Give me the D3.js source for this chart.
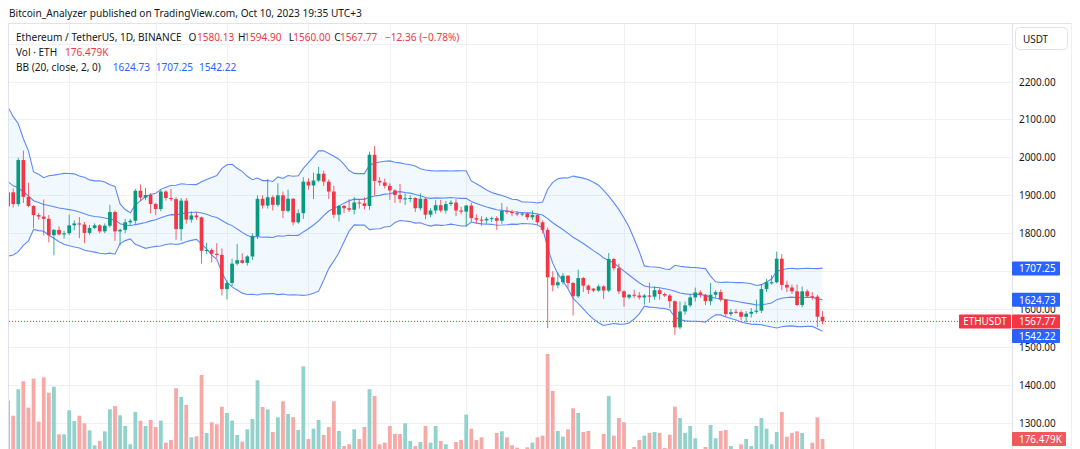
<!DOCTYPE html>
<html><head><meta charset="utf-8">
<script src="https://cdn.jsdelivr.net/npm/d3@7"></script>
<style>html,body{margin:0;padding:0;background:#fff;overflow:hidden}</style>
</head><body>
<svg id="c" width="1080" height="449"></svg>
<script>
// ---------------- DATA ----------------
const startDate = "2023-05-03";           // first daily candle (ETHUSDT, Binance)
const open = [1871,1908,1877,1993,1896,1872,1848,1844,1838,1795,
1809,1797,1800,1821,1826,1823,1801,1814,1821,1805,
1820,1856,1805,1809,1829,1833,1912,1894,1901,1877,
1864,1910,1893,1890,1811,1886,1836,1847,1842,1754,
1756,1746,1743,1653,1669,1720,1729,1722,1739,1793,
1891,1873,1895,1875,1900,1859,1891,1829,1853,1936,
1926,1939,1957,1936,1910,1849,1872,1866,1862,1881,
1879,1872,2007,1938,1934,1925,1913,1901,1890,1892,
1893,1866,1891,1849,1860,1874,1860,1877,1881,1860,
1857,1873,1840,1836,1834,1838,1840,1833,1859,1856,
1853,1850,1852,1842,1848,1829,1809,1684,1663,1671,
1688,1669,1634,1682,1662,1654,1649,1660,1649,1732,
1708,1647,1631,1638,1636,1631,1636,1633,1650,1640,
1636,1621,1552,1594,1610,1631,1644,1638,1621,1638,
1645,1625,1587,1593,1592,1580,1588,1593,1596,1653,
1668,1671,1733,1664,1657,1647,1611,1647,1634,1633,
1580.13];
const high = [1916,1918,1999,2018,1933,1874,1853,1889,1848,1811,
1818,1806,1849,1834,1843,1830,1822,1826,1824,1826,
1875,1860,1812,1838,1838,1917,1929,1920,1906,1880,
1915,1913,1917,1895,1893,1893,1858,1855,1844,1775,
1760,1774,1760,1676,1733,1772,1747,1742,1800,1900,
1900,1943,1900,1932,1910,1915,1893,1863,1948,1945,
1960,1975,1965,1942,1925,1875,1875,1890,1895,1890,
1895,2015,2030,1948,1944,1932,1916,1930,1905,1900,
1895,1905,1893,1866,1887,1888,1885,1887,1890,1870,
1875,1880,1850,1845,1843,1844,1845,1880,1870,1862,
1858,1856,1855,1860,1852,1834,1815,1700,1697,1695,
1690,1672,1704,1685,1665,1656,1665,1663,1748,1735,
1720,1650,1640,1651,1645,1640,1670,1660,1655,1644,
1640,1623,1620,1620,1640,1657,1650,1640,1669,1650,
1652,1627,1600,1600,1597,1595,1603,1625,1666,1680,
1690,1752,1745,1675,1665,1665,1660,1652,1645,1638,
1594.90];
const low = [1853,1868,1871,1880,1869,1814,1836,1794,1776,1742,
1794,1786,1795,1808,1787,1774,1796,1810,1800,1800,
1815,1780,1768,1800,1822,1825,1885,1887,1852,1848,
1858,1886,1885,1783,1780,1825,1828,1835,1720,1745,
1723,1735,1636,1626,1660,1715,1720,1715,1730,1785,
1865,1865,1860,1870,1840,1855,1821,1825,1838,1915,
1890,1935,1925,1890,1840,1831,1853,1856,1850,1865,
1863,1862,1900,1925,1918,1888,1880,1880,1875,1882,
1856,1860,1837,1842,1851,1855,1852,1872,1845,1850,
1818,1830,1826,1820,1826,1830,1809,1825,1850,1845,
1845,1845,1835,1835,1822,1800,1550,1647,1655,1665,
1655,1583,1630,1645,1640,1645,1646,1627,1645,1702,
1640,1607,1626,1629,1625,1612,1617,1625,1625,1632,
1603,1532,1547,1585,1605,1620,1630,1611,1610,1630,
1620,1580,1582,1588,1570,1565,1578,1588,1590,1645,
1665,1668,1650,1645,1640,1608,1605,1630,1625,1553,
1560.00];
const close = [1908,1877,1993,1896,1872,1848,1844,1838,1795,1809,
1797,1800,1821,1826,1823,1801,1814,1821,1805,1820,
1856,1805,1809,1829,1833,1912,1894,1901,1877,1864,
1910,1893,1890,1811,1886,1836,1847,1842,1754,1756,
1746,1743,1653,1669,1720,1729,1722,1739,1793,1891,
1873,1895,1875,1900,1859,1891,1829,1853,1936,1926,
1939,1957,1936,1910,1849,1872,1866,1862,1881,1879,
1872,2007,1938,1934,1925,1913,1901,1890,1892,1893,
1866,1891,1849,1860,1874,1860,1877,1881,1860,1857,
1873,1840,1836,1834,1838,1840,1833,1859,1856,1853,
1850,1852,1842,1848,1829,1809,1684,1663,1671,1688,
1669,1634,1682,1662,1651,1649,1660,1649,1732,1708,
1647,1631,1638,1636,1631,1636,1633,1650,1640,1636,
1621,1552,1594,1610,1631,1644,1638,1621,1638,1645,
1625,1587,1592,1592,1580,1588,1593,1596,1653,1671,
1671,1733,1664,1657,1647,1611,1647,1634,1633,1580.13,
1567.77];
// daily volume, thousands of ETH
const volume = [599,433,725,813,522,842,367,857,687,753,
228,228,493,375,433,350,272,107,154,261,
504,540,438,320,118,474,378,320,386,309,
378,136,165,736,640,552,195,206,882,243,
361,339,533,463,378,221,147,283,397,824,
529,504,254,416,592,452,416,276,978,176,
290,386,221,309,592,265,99,118,283,176,
309,725,651,118,136,320,232,232,350,154,
99,143,320,136,320,154,118,66,143,165,
445,290,165,195,66,55,243,261,195,107,
81,55,85,136,195,213,1114,706,265,202,
283,515,463,254,265,55,55,232,651,213,
408,361,66,88,165,213,243,254,243,77,
224,533,408,243,320,184,66,88,331,184,
265,276,99,66,118,176,99,320,408,290,
118,254,474,202,243,261,243,66,136,416,
176.479];
// closes of the 19 days before the first candle (Apr 14 - May 2), needed by BB(20)
const priorCloses = [2101,2093,2123,2075,2101,1937,1943,1851,1873,1863,1842,1866,1867,1910,1893,1906,1870,1831,1871];
const priceTicks = [1300,1400,1500,1600,1700,1800,1900,2000,2100,2200,2300];
const priceLabels = [1300,1400,1500,1600,1800,1900,2000,2100,2200];   // 1700 sits under the band label
const timeGrid = ["2023-05-15","2023-06-01","2023-06-15","2023-07-01","2023-07-17","2023-08-01","2023-08-15","2023-09-01","2023-09-15","2023-10-01","2023-10-16","2023-11-01"];
const bbLegendLabels = ["1624.73","1707.25","1542.22"];   // basis, upper, lower as shown
const bbLegendValues = [1624.73,1707.25,1542.22];
const headerText = "Bitcoin_Analyzer published on TradingView.com, Oct 10, 2023 19:35 UTC+3";
const symbolText = "Ethereum / TetherUS, 1D, BINANCE";
const volText = "Vol · ETH";
const bbText = "BB (20, close, 2, 0)";
const ticker = "ETHUSDT";
const currency = "USDT";

// ---------------- DRAW ----------------
const FONT = "'Noto Sans','Open Sans','DejaVu Sans',sans-serif";
const UP="#089981", DN="#f23645", VUP="#92d2cc", VDN="#f7a9a7", BLUE="#2962ff";
const svg = d3.select('#c');
const paneL=8.5, paneR=1012.5, paneT=23.5, paneB=449;

const parse = d3.utcParse("%Y-%m-%d");
const d0 = parse(startDate);
const dates = close.map((_,i)=>d3.utcDay.offset(d0,i));
const x = d3.scaleUtc().domain([d0, parse("2023-11-01")]).range([8.1, 934.5]);
const y = d3.scaleLinear().domain([1300,2200]).range([423,81.5]);
const yv = d3.scaleLinear().domain([0,1000]).range([455,364.3]);

const candles = dates.map((d,i)=>({d,o:open[i],h:high[i],l:low[i],c:close[i],v:volume[i]}));

// Bollinger Bands (20, 2) from closes
const allC = priorCloses.concat(close);
const bb = candles.map((c,i)=>{
  const w = allC.slice(i, i+20);
  const m = d3.mean(w);
  const sd = Math.sqrt(d3.mean(w, v=>(v-m)*(v-m)));
  return {d:c.d, mid:m, up:m+2*sd, lo:m-2*sd};
});

svg.append('rect').attr('width',1080).attr('height',449).attr('fill','#fff');

const defs = svg.append('defs');
defs.append('clipPath').attr('id','pane').append('rect')
  .attr('x',9).attr('y',24).attr('width',paneR-9).attr('height',paneB-24);

const grid = svg.append('g').attr('clip-path','url(#pane)');
grid.selectAll('line.h').data(priceTicks).join('line')
  .attr('x1',paneL).attr('x2',paneR)
  .attr('y1',d=>Math.round(y(d))+0.5).attr('y2',d=>Math.round(y(d))+0.5)
  .attr('stroke','#f0f1f4').attr('stroke-width',1);
grid.selectAll('line.v').data(timeGrid.map(parse)).join('line')
  .attr('x1',d=>Math.round(x(d))+0.5).attr('x2',d=>Math.round(x(d))+0.5)
  .attr('y1',paneT).attr('y2',paneB)
  .attr('stroke','#f0f1f4').attr('stroke-width',1);

const plot = svg.append('g').attr('clip-path','url(#pane)');

// volume
plot.selectAll('rect.vol').data(candles).join('rect')
  .attr('x',d=>x(d.d)-1.9).attr('width',3.8)
  .attr('y',d=>yv(d.v)).attr('height',d=>yv(0)-yv(d.v))
  .attr('fill',d=>d.c>=d.o?VUP:VDN);

// BB
plot.append('path').datum(bb)
  .attr('d',d3.area().x(d=>x(d.d)).y0(d=>y(d.lo)).y1(d=>y(d.up)))
  .attr('fill','rgba(33,150,243,0.06)');
['up','mid','lo'].forEach(k=>{
  plot.append('path').datum(bb)
    .attr('d',d3.line().x(d=>x(d.d)).y(d=>y(d[k])))
    .attr('fill','none').attr('stroke',BLUE).attr('stroke-opacity',0.75).attr('stroke-width',1.1);
});

// candles
const cg = plot.selectAll('g.cd').data(candles).join('g');
cg.append('line')
  .attr('x1',d=>x(d.d)).attr('x2',d=>x(d.d))
  .attr('y1',d=>y(d.h)).attr('y2',d=>y(d.l))
  .attr('stroke',d=>d.c>=d.o?UP:DN).attr('stroke-width',1).attr('stroke-opacity',0.8);
cg.append('rect')
  .attr('x',d=>x(d.d)-1.85).attr('width',3.7)
  .attr('y',d=>y(Math.max(d.o,d.c)))
  .attr('height',d=>Math.max(1,Math.abs(y(d.o)-y(d.c))))
  .attr('fill',d=>d.c>=d.o?UP:DN);

// last price dotted line
const last = candles[candles.length-1];
const prev = candles[candles.length-2];
svg.append('line').attr('x1',9).attr('x2',959)
  .attr('y1',y(last.c)).attr('y2',y(last.c))
  .attr('stroke',DN).attr('stroke-width',1).attr('stroke-dasharray','1,2');

// borders
const bc = '#e0e3eb';
svg.append('line').attr('x1',paneL).attr('x2',1071.5).attr('y1',paneT).attr('y2',paneT).attr('stroke',bc);
svg.append('line').attr('x1',paneL).attr('x2',paneL).attr('y1',paneT).attr('y2',paneB).attr('stroke',bc);
svg.append('line').attr('x1',paneR).attr('x2',paneR).attr('y1',paneT).attr('y2',paneB).attr('stroke',bc);
svg.append('line').attr('x1',1071.5).attr('x2',1071.5).attr('y1',paneT).attr('y2',paneB).attr('stroke','#eef0f3');

// helper: fit font size to a target width
function fit(sel, target){
  const w = sel.node().getComputedTextLength();
  const fs = parseFloat(sel.attr('font-size'));
  const nfs = fs*target/w;
  sel.attr('font-size', nfs);
  return nfs;
}

// price axis labels
const axFs = (()=>{
  const t = svg.append('text').attr('font-family',FONT).attr('font-size',11).text('2200.00');
  const f = fit(t, 36.7); t.remove(); return f;
})();
svg.selectAll('text.ax').data(priceLabels).join('text')
  .attr('x',1019).attr('y',d=>y(d)).attr('dominant-baseline','central')
  .attr('font-family',FONT).attr('font-size',axFs).attr('fill','#131722')
  .text(d=>d3.format('.2f')(d));

// USDT button
svg.append('rect').attr('x',1015.5).attr('y',27.5).attr('width',52).attr('height',22).attr('rx',4)
  .attr('fill','#fff').attr('stroke','#e0e3eb');
svg.append('text').attr('x',1023).attr('y',39).attr('dominant-baseline','central')
  .attr('font-family',FONT).attr('font-size',axFs).attr('fill','#131722').text(currency);

// price label boxes (resolve overlap)
const boxes = [
  {v:bbLegendValues[1], t:bbLegendLabels[1], col:BLUE},
  {v:bbLegendValues[0], t:bbLegendLabels[0], col:BLUE},
  {v:last.c, t:d3.format('.2f')(last.c), col:DN, main:true},
  {v:bbLegendValues[2], t:bbLegendLabels[2], col:BLUE}
].map(b=>({...b, cy:y(b.v)}));
const BH=14;
for(let i=1;i<boxes.length;i++){
  if(boxes[i].cy < boxes[i-1].cy + BH + 0.5) boxes[i].cy = boxes[i-1].cy + BH + 0.5;
}
boxes.forEach(b=>{
  svg.append('rect').attr('x',1012).attr('y',b.cy-BH/2).attr('width',48).attr('height',BH)
    .attr('rx',1).attr('fill',b.col);
  svg.append('text').attr('x',1019).attr('y',b.cy).attr('dominant-baseline','central')
    .attr('font-family',FONT).attr('font-size',axFs).attr('fill','#fff').text(b.t);
  if(b.main){
    svg.append('rect').attr('x',959).attr('y',b.cy-BH/2).attr('width',52).attr('height',BH)
      .attr('rx',1).attr('fill',DN);
    svg.append('text').attr('x',985).attr('y',b.cy).attr('dominant-baseline','central')
      .attr('text-anchor','middle')
      .attr('font-family',FONT).attr('font-size',axFs).attr('fill','#fff').text(ticker);
  }
});
// volume label
const vcy = yv(last.v);
svg.append('rect').attr('x',1012).attr('y',vcy-BH/2).attr('width',54).attr('height',BH)
  .attr('rx',1).attr('fill','#f0585c');
svg.append('text').attr('x',1019).attr('y',vcy).attr('dominant-baseline','central')
  .attr('font-family',FONT).attr('font-size',axFs).attr('fill','#fff')
  .text(d3.format('.3f')(last.v)+'K');

// header
const hdr = svg.append('text').attr('x',9).attr('y',13).attr('dominant-baseline','central')
  .attr('font-family',FONT).attr('font-size',12).attr('fill','#131722').text(headerText);
fit(hdr, 353);

// legend
const lg = svg.append('g').attr('font-family',FONT).attr('fill','#131722');
const s1 = lg.append('text').attr('x',16).attr('y',36.5).attr('dominant-baseline','central')
  .attr('font-size',12).text(symbolText);
const lfs = fit(s1, 166);
function put(xp, yp, txt, col){
  return lg.append('text').attr('x',xp).attr('y',yp).attr('dominant-baseline','central')
    .attr('font-size',lfs).attr('fill',col||'#131722').text(txt);
}
const f2 = d3.format('.2f');
const minus = s => s.replace('-','\u2212');
const chg = last.c - prev.c;
put(188.5,36.5,'O'); put(197,36.5,f2(last.o),DN);
put(238,36.5,'H');   put(244.3,36.5,f2(last.h),DN);
put(288.7,36.5,'L'); put(293.3,36.5,f2(last.l),DN);
put(334.3,36.5,'C'); put(340,36.5,f2(last.c),DN);
put(385,36.5, minus(f2(chg))+' ('+minus(f2(chg/prev.c*100))+'%)', DN);
put(16,51.5,volText); put(65,51.5,d3.format('.3f')(last.v)+'K',DN);
put(16,66.5,bbText);
put(112.7,66.5,bbLegendLabels[0],BLUE);
put(155.7,66.5,bbLegendLabels[1],BLUE);
put(199,66.5,bbLegendLabels[2],BLUE);
</script>
</body></html>
